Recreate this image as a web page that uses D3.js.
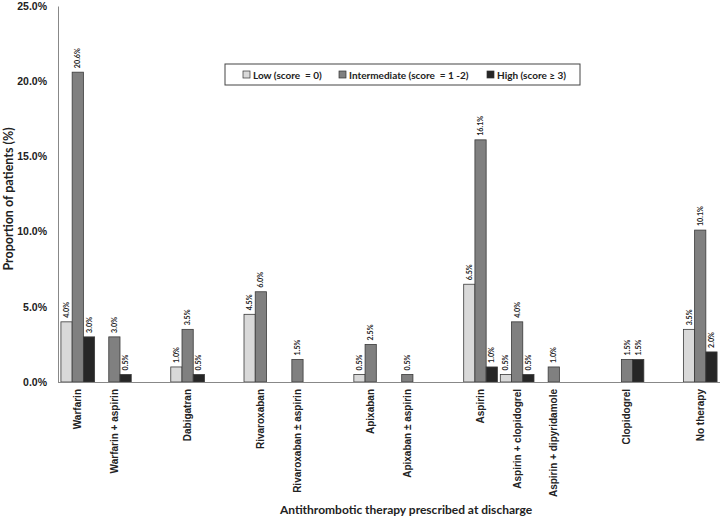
<!DOCTYPE html>
<html>
<head>
<meta charset="utf-8">
<script src="https://cdn.jsdelivr.net/npm/d3@7"></script>
<style>
  body { margin: 0; background: #fff; }
  svg { font-family: Lato, "Open Sans", sans-serif; font-weight: bold; }
  .legtext { white-space: pre; }
</style>
</head>
<body>
<svg id="chart" width="722" height="521"></svg>
<script>
// categories (empty strings are the blank spacer slots of the original chart)
var categories = ["Warfarin", "Warfarin + aspirin", "", "Dabigatran", "", "Rivaroxaban",
    "Rivaroxaban \u00b1 aspirin", "", "Apixaban", "Apixaban \u00b1 aspirin", "", "Aspirin",
    "Aspirin + clopidogrel", "Aspirin + dipyridamole", "", "Clopidogrel", "", "No therapy"];
var low          = [4.0, 0,   0, 1.0, 0, 4.5, 0,   0, 0.5, 0,   0, 6.5,  0.5, 0,   0, 0,   0, 3.5];
var intermediate = [20.6, 3.0, 0, 3.5, 0, 6.0, 1.5, 0, 2.5, 0.5, 0, 16.1, 4.0, 1.0, 0, 1.5, 0, 10.1];
var high         = [3.0, 0.5, 0, 0.5, 0, 0,   0,   0, 0,   0,   0, 1.0,  0.5, 0,   0, 1.5, 0, 2.0];
var seriesNames = ["Low (score  = 0)", "Intermediate (score  = 1 -2)", "High (score \u2265 3)"];
var seriesColors = ["#d9d9d9", "#808080", "#262626"];
var yTicks = [0, 5, 10, 15, 20, 25];

var series = [low, intermediate, high];

var svg = d3.select("#chart");
var margin = {left: 58, right: 2, top: 6, bottom: 139};
var width = 722 - margin.left - margin.right,
    height = 521 - margin.top - margin.bottom;

var g = svg.append("g").attr("transform", "translate(" + margin.left + "," + margin.top + ")");

var x0 = d3.scaleBand()
    .domain(d3.range(categories.length))
    .range([0, width])
    .padding(0.08);

var x1 = d3.scaleBand()
    .domain(d3.range(series.length))
    .range([0, x0.bandwidth()]);

var y = d3.scaleLinear()
    .domain([0, 25])
    .range([height, 0]);

// bars
var groups = g.selectAll("g.cat")
    .data(categories)
    .enter().append("g")
    .attr("class", "cat")
    .attr("transform", function(d, i) { return "translate(" + x0(i) + ",0)"; });

groups.each(function(c, i) {
    var grp = d3.select(this);
    series.forEach(function(s, k) {
        var v = s[i];
        if (!v) return;
        grp.append("rect")
            .attr("x", x1(k))
            .attr("y", y(v))
            .attr("width", x1.bandwidth())
            .attr("height", y(0) - y(v))
            .attr("fill", seriesColors[k])
            .attr("stroke", "#3a3a3a")
            .attr("stroke-width", 0.8);
        var cx = x1(k) + x1.bandwidth() / 2, ty = y(v) - 4;
        grp.append("text")
            .attr("transform", "translate(" + cx + "," + ty + ") rotate(-90)")
            .attr("dy", "0.35em")
            .attr("text-anchor", "start")
            .attr("font-size", 7.2)
            .attr("fill", "#222")
            .text(v.toFixed(1) + "%");
    });
});

// y axis
var yAxis = d3.axisLeft(y)
    .tickValues(yTicks)
    .tickSize(0)
    .tickPadding(11)
    .tickFormat(function(d) { return d.toFixed(1) + "%"; });
var ya = g.append("g").call(yAxis);
ya.select(".domain").attr("stroke", "#888").attr("stroke-width", 1);
ya.selectAll("text").attr("font-size", 10.5).attr("fill", "#222").attr("font-family", null);

// x axis
var xAxis = d3.axisBottom(x0)
    .tickSize(0)
    .tickFormat(function(i) { return categories[i]; });
var xa = g.append("g").attr("transform", "translate(0," + height + ")").call(xAxis);
xa.select(".domain").attr("stroke", "#888").attr("stroke-width", 1).attr("d", "M0,0.5H" + width);
xa.selectAll("text")
    .attr("font-size", 10)
    .attr("fill", "#222")
    .attr("font-family", null)
    .attr("text-anchor", "end")
    .attr("transform", "rotate(-90)")
    .attr("x", -7)
    .attr("y", 0)
    .attr("dy", "0.35em");

// axis titles
svg.append("text")
    .attr("transform", "translate(13," + (margin.top + 193) + ") rotate(-90)")
    .attr("text-anchor", "middle")
    .attr("font-size", 12.5)
    .attr("fill", "#222")
    .text("Proportion of patients (%)");

svg.append("text")
    .attr("x", 406)
    .attr("y", 514)
    .attr("text-anchor", "middle")
    .attr("font-size", 12)
    .attr("fill", "#222")
    .text("Antithrombotic therapy prescribed at discharge");

// legend
var legend = svg.append("g").attr("transform", "translate(225,64)");
legend.append("rect")
    .attr("width", 355).attr("height", 21)
    .attr("fill", "#fff").attr("stroke", "#444").attr("stroke-width", 1);
var legX = [18, 114, 262];
seriesNames.forEach(function(name, k) {
    legend.append("rect")
        .attr("x", legX[k]).attr("y", 7)
        .attr("width", 7).attr("height", 7)
        .attr("fill", seriesColors[k])
        .attr("stroke", "#333").attr("stroke-width", 0.7);
    legend.append("text")
        .attr("class", "legtext")
        .attr("x", legX[k] + 10).attr("y", 14.5)
        .attr("font-size", 10)
        .attr("fill", "#222")
        .text(name);
});
</script>
</body>
</html>
